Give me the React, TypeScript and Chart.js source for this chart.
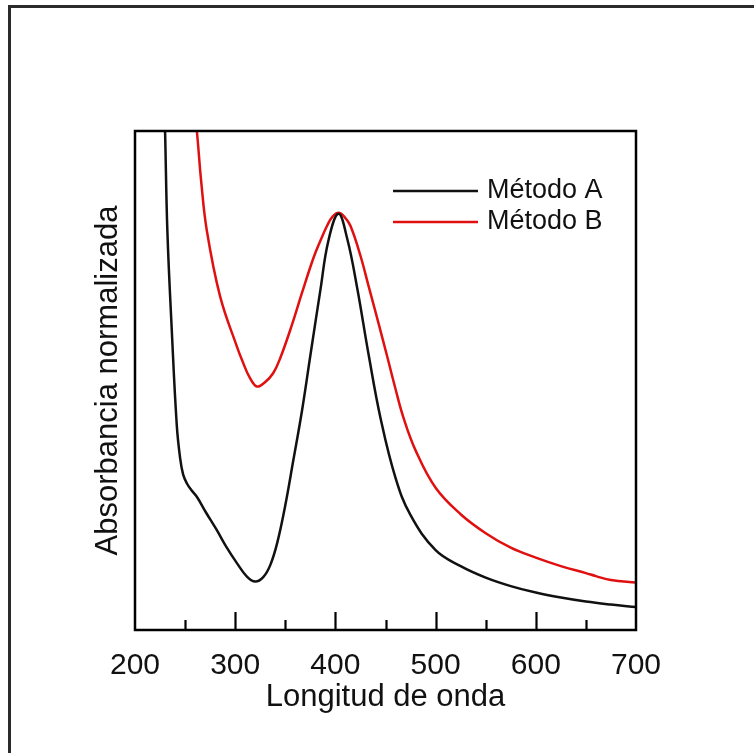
import React, { useEffect, useRef } from "react";
import { Chart, registerables } from "chart.js";

Chart.register(...registerables);

// Wavelength (nm) and normalised absorbance
const wavelengthA = [226, 230, 232.3, 236.7, 241.7, 245, 248, 252, 256, 261.7, 271, 281.7, 291, 301.7, 311.7, 320, 328, 335, 342, 350, 358, 366.7, 375, 385, 393, 403, 411.7, 421.7, 433.3, 445, 460, 475, 500, 525, 550, 575, 600, 625, 650, 675, 700];
const absorbanceA = [1.3, 1.0, 0.8, 0.601, 0.41, 0.345, 0.312, 0.293, 0.281, 0.267, 0.235, 0.2, 0.167, 0.134, 0.107, 0.097, 0.106, 0.13, 0.175, 0.25, 0.34, 0.44, 0.55, 0.681, 0.78, 0.834, 0.785, 0.686, 0.55, 0.425, 0.305, 0.23, 0.16, 0.128, 0.105, 0.088, 0.075, 0.065, 0.057, 0.051, 0.046];

const wavelengthB = [255, 261.7, 266, 271.7, 285, 301.7, 308, 314, 321.7, 330, 338, 345, 356.7, 366.7, 378, 385, 391.7, 397, 403.3, 409, 415, 425, 433, 443, 451.7, 460, 468, 480, 500, 525, 550, 575, 600, 625, 650, 660, 675, 700];
const absorbanceB = [1.12, 1.0, 0.9, 0.8, 0.668, 0.568, 0.535, 0.508, 0.488, 0.497, 0.515, 0.545, 0.612, 0.676, 0.745, 0.78, 0.81, 0.828, 0.836, 0.828, 0.81, 0.75, 0.69, 0.615, 0.548, 0.483, 0.425, 0.36, 0.285, 0.232, 0.194, 0.165, 0.145, 0.128, 0.114, 0.108, 0.1, 0.095];

const seriesLabels = ["Método A", "Método B"];
const seriesColors = ["#111111", "#e01010"];

const xMin = 200;
const xMax = 700;
const majorTicks = [300, 400, 500, 600];
const minorTicks = [250, 350, 450, 550, 650];

const FONT = '"Liberation Sans", Arial, sans-serif';

const framePlugin = {
  id: "frameTicksLegend",
  afterDraw(chart: any) {
    const { ctx, chartArea: a, scales } = chart;
    const x = scales.x;
    ctx.save();
    // box
    ctx.strokeStyle = "#000";
    ctx.lineWidth = 2.5;
    ctx.strokeRect(a.left, a.top, a.right - a.left, a.bottom - a.top);
    // inward tick marks
    ctx.lineWidth = 2.2;
    ctx.beginPath();
    for (const v of majorTicks) {
      const px = Math.round(x.getPixelForValue(v)) + 0.5;
      ctx.moveTo(px, a.bottom);
      ctx.lineTo(px, a.bottom - 18);
    }
    for (const v of minorTicks) {
      const px = Math.round(x.getPixelForValue(v)) + 0.5;
      ctx.moveTo(px, a.bottom);
      ctx.lineTo(px, a.bottom - 10);
    }
    ctx.stroke();
    // legend
    const lx0 = a.left + 258;
    const lx1 = a.left + 343;
    const tx = a.left + 352;
    const ys = [a.top + 60, a.top + 91];
    ctx.font = `27px ${FONT}`;
    ctx.textBaseline = "middle";
    ctx.textAlign = "left";
    chart.data.datasets.forEach((ds: any, i: number) => {
      ctx.strokeStyle = ds.borderColor;
      ctx.lineWidth = 2.5;
      ctx.beginPath();
      ctx.moveTo(lx0, ys[i]);
      ctx.lineTo(lx1, ys[i]);
      ctx.stroke();
      ctx.fillStyle = "#111";
      ctx.fillText(ds.label, tx, ys[i]);
    });
    ctx.restore();
  },
};

export default function App() {
  const ref = useRef<HTMLCanvasElement | null>(null);

  useEffect(() => {
    if (!ref.current) return;
    const mk = (xs: number[], ys: number[]) => xs.map((v, i) => ({ x: v, y: ys[i] }));
    const chart = new Chart(ref.current, {
      type: "line",
      data: {
        datasets: [
          {
            label: seriesLabels[0],
            data: mk(wavelengthA, absorbanceA),
            borderColor: seriesColors[0],
            borderWidth: 2.5,
            pointRadius: 0,
            tension: 0.4,
            fill: false,
          },
          {
            label: seriesLabels[1],
            data: mk(wavelengthB, absorbanceB),
            borderColor: seriesColors[1],
            borderWidth: 2.5,
            pointRadius: 0,
            tension: 0.4,
            fill: false,
          },
        ],
      },
      options: {
        animation: false,
        responsive: false,
        layout: { padding: { left: 0, right: 118, top: 131, bottom: 23 } },
        plugins: { legend: { display: false }, tooltip: { enabled: false } },
        scales: {
          x: {
            type: "linear",
            min: xMin,
            max: xMax,
            afterFit: (s: any) => {
              s.height = 100;
            },
            grid: { display: false },
            border: { display: false },
            ticks: {
              stepSize: 100,
              color: "#111",
              padding: 10,
              maxRotation: 0,
              font: { size: 30, family: FONT },
            },
            title: {
              display: true,
              text: "Longitud de onda",
              color: "#111",
              font: { size: 31, family: FONT },
              padding: { top: 0, bottom: 14 },
            },
          },
          y: {
            type: "linear",
            min: 0,
            max: 1,
            afterFit: (s: any) => {
              s.width = 135;
            },
            grid: { display: false },
            border: { display: false },
            ticks: { display: false },
            title: {
              display: true,
              text: "Absorbancia normalizada",
              color: "#111",
              font: { size: 31, family: FONT },
              padding: { top: 90, bottom: 0 },
            },
          },
        },
      },
      plugins: [framePlugin],
    } as any);
    return () => chart.destroy();
  }, []);

  return (
    <div style={{ position: "fixed", left: 0, top: 0, width: 754, height: 753, background: "#fff", overflow: "hidden" }}>
      <div
        style={{
          position: "absolute",
          left: 8,
          top: 5,
          right: -10,
          bottom: -10,
          borderLeft: "3px solid #2b2b2b",
          borderTop: "3px solid #2b2b2b",
          pointerEvents: "none",
        }}
      />
      <canvas ref={ref} width={754} height={753} style={{ position: "absolute", left: 0, top: 0 }} />
    </div>
  );
}
